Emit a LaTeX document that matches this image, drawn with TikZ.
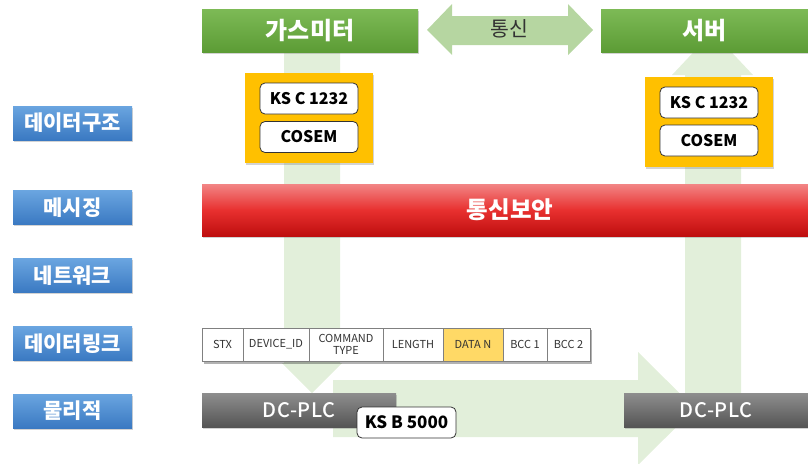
\documentclass[tikz,border=0pt]{standalone}
\usepackage{fontspec}
\setmainfont{Noto Sans CJK KR}
\newfontfamily\plcfont{Noto Sans CJK KR Medium}[LetterSpace=3]
\usetikzlibrary{shadows}
\definecolor{blueT}{HTML}{6AA5E0}
\definecolor{blueB}{HTML}{3A79C2}
\definecolor{greenT}{HTML}{7DBA56}
\definecolor{greenB}{HTML}{5C9C35}
\definecolor{band}{HTML}{E2EFDA}
\definecolor{arrowG}{HTML}{B6D6A1}
\definecolor{redT}{HTML}{F28585}
\definecolor{redM}{HTML}{E8302F}
\definecolor{redB}{HTML}{BE0E0E}
\definecolor{grayT}{HTML}{8E8E8E}
\definecolor{grayB}{HTML}{555555}
\definecolor{yel}{HTML}{FFC000}
\definecolor{dataN}{HTML}{FFD966}
\definecolor{txt}{HTML}{333333}
\definecolor{cellline}{HTML}{808080}
\begin{document}
\begin{tikzpicture}[x=1pt,y=-1pt,
  shd/.style={drop shadow={shadow xshift=1pt,shadow yshift=-1.5pt,opacity=0.35}},
  layer/.style={rectangle,minimum width=119pt,minimum height=34pt,inner sep=0pt,
    top color=blueT,bottom color=blueB,text=white,
    font=\fontsize{21}{21}\selectfont\bfseries,shd},
  device/.style={rectangle,minimum height=43pt,inner sep=0pt,
    top color=greenT,bottom color=greenB,text=white,
    font=\fontsize{24}{24}\selectfont\bfseries,shd},
  plc/.style={rectangle,minimum height=34pt,inner sep=0pt,
    top color=grayT,bottom color=grayB,text=white,
    font=\plcfont\fontsize{20}{20}\selectfont,shd},
  yelbox/.style={rectangle,minimum width=128pt,minimum height=90pt,inner sep=0pt,
    fill=yel,shd},
  stdbox/.style={rectangle,rounded corners=5pt,draw=txt,line width=0.8pt,fill=white,
    minimum width=98pt,minimum height=31pt,inner sep=0pt,text=black,
    font=\fontsize{16}{16}\selectfont\bfseries},
  cell/.style={rectangle,draw=cellline,line width=0.8pt,fill=white,minimum height=33pt,
    inner sep=0pt,text=txt,font=\fontsize{11}{12}\selectfont,align=center},
]
\useasboundingbox (0,0) rectangle (808,463);

% background block arrows
\fill[band] (284,52) -- (340,52) -- (340,363) -- (342,363) -- (312,393) -- (282,363) -- (284,363) -- cycle;
\fill[band] (333,380) -- (638,380) -- (638,352) -- (695,408.5) -- (638,465) -- (638,437) -- (333,437) -- cycle;
\fill[band] (685,410) -- (685,75) -- (672,75) -- (712.5,32) -- (753,75) -- (741,75) -- (741,410) -- cycle;

% communication double arrow
\fill[arrowG] (427,30) -- (452,4) -- (452,16) -- (568,16) -- (568,4) -- (593,30)
  -- (568,55) -- (568,45) -- (452,45) -- (452,55) -- cycle;
\node[text=txt,font=\fontsize{20.5}{20.5}\selectfont] (comm) at (509,29) {통신};

% layer labels
\node[layer] (l1) at (72.5,123) {데이터구조};
\node[layer] (l2) at (72.5,207.5) {메시징};
\node[layer] (l3) at (72.5,275.5) {네트워크};
\node[layer] (l4) at (72.5,343.5) {데이터링크};
\node[layer] (l5) at (72.5,411) {물리적};

% devices
\node[device,minimum width=216pt] (gas) at (310,30.5) {가스미터};
\node[device,minimum width=207pt] (srv) at (704.5,30.5) {서버};

% data structure boxes
\node[yelbox] (y1) at (309,118) {};
\node[stdbox] (k1) at (309,98.5) {KS C 1232};
\node[stdbox] (c1) at (309,137) {COSEM};
\node[yelbox] (y2) at (709,122) {};
\node[stdbox] (k2) at (709,102.5) {KS C 1232};
\node[stdbox] (c2) at (709,140.5) {COSEM};

% security bar
\node[rectangle,minimum width=606pt,minimum height=52pt,inner sep=0pt,
  top color=redT,bottom color=redB,middle color=redM,shd] (sec) at (505,210) {};
\node[text=white,font=\fontsize{23.5}{23.5}\selectfont\bfseries] (sect) at (510,210) {통신보안};

% data link frame
\fill[black,opacity=0.3] (203.5,330) rectangle (591.5,363.5);
\node[cell,minimum width=41pt] (f1) at (222.5,344.5) {STX};
\node[cell,minimum width=66pt] (f2) at (276,344.5) {DEVICE\_ID};
\node[cell,minimum width=74pt] (f3) at (346,344.5) {COMMAND\\TYPE};
\node[cell,minimum width=60pt] (f4) at (413,344.5) {LENGTH};
\node[cell,minimum width=60pt,fill=dataN] (f5) at (473,344.5) {DATA N};
\node[cell,minimum width=44pt] (f6) at (525,344.5) {BCC 1};
\node[cell,minimum width=43pt] (f7) at (568.5,344.5) {BCC 2};

% physical
\node[plc,minimum width=194pt] (p1) at (299,410) {DC-PLC};
\node[plc,minimum width=184pt] (p2) at (716,410) {DC-PLC};
\node[stdbox,minimum width=99pt,font=\fontsize{17}{17}\selectfont\bfseries] (ksb) at (406.5,422.5) {KS B 5000};
\end{tikzpicture}
\end{document}
